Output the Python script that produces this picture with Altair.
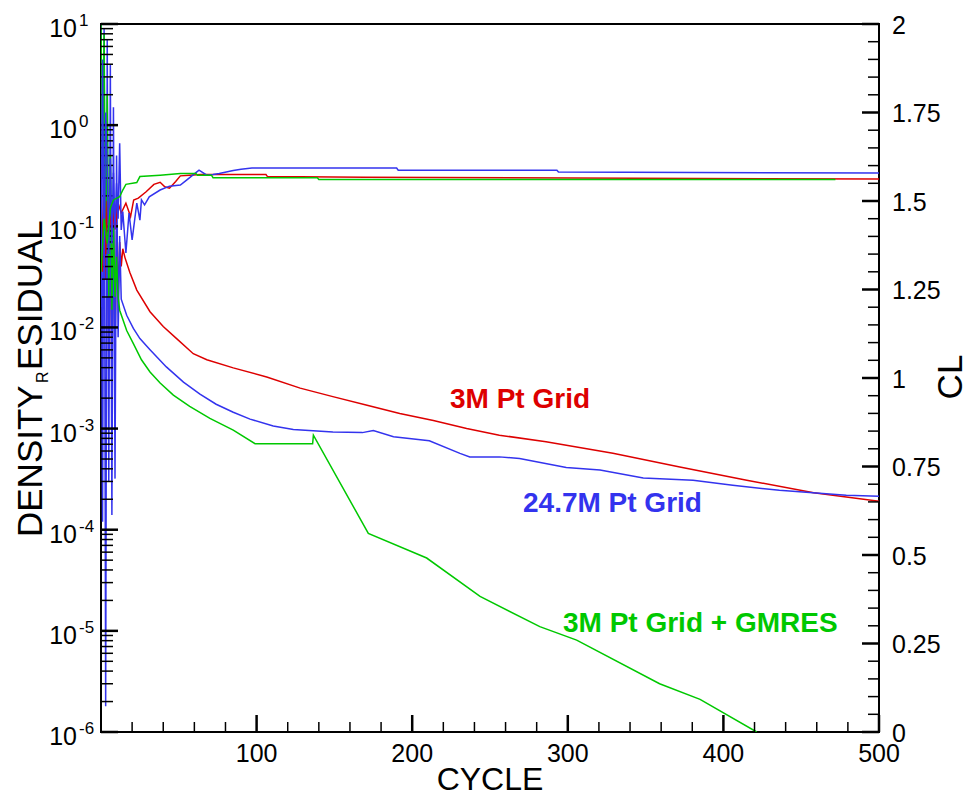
import altair as alt
import pandas as pd

# ---------------- data ----------------
red_res_cycle = [0, 1, 2, 3, 4, 5, 6, 7, 8, 9, 10, 11, 12, 13, 14, 15.4, 18.6, 23, 31.5, 40, 48.6,
                 59.3, 68, 85, 106.5, 128, 149, 171, 192, 213.6, 235, 256, 286, 329, 372, 415, 458, 500]
red_res_val = [2.0, 0.4, 0.9, 0.03, 0.25, 0.004, 0.15, 0.0026, 0.12, 0.006, 0.09, 0.02, 0.07, 0.04, 0.06,
               0.049, 0.0347, 0.0234, 0.0143, 0.0102, 0.00776, 0.0055, 0.00479, 0.00398, 0.00324, 0.00251,
               0.00207, 0.0017, 0.00141, 0.0012, 0.001, 0.000861, 0.000741, 0.000569, 0.000417, 0.000309,
               0.000232, 0.000191]

blue_res_cycle = [0, 1, 2, 3, 4, 5, 6, 7, 8, 9, 10, 11, 12, 13, 16.5, 20.8, 25, 31.5, 42, 53, 63.6, 74, 85,
                  95.8, 110.7, 123.6, 149, 168, 175, 188, 211, 230.7, 237, 256, 269, 299, 320.7, 348.5,
                  380.5, 406, 436, 479, 500]
blue_res_val = [9.8, 1.2e-4, 9.0, 1.8e-6, 7.0, 3.0e-4, 4.0, 1.4e-4, 1.5, 3.2e-4, 0.5, 8e-3, 0.08, 0.019,
                0.0132, 0.00977, 0.00776, 0.00603, 0.00407, 0.00288, 0.00219, 0.00174, 0.00145, 0.00124,
                0.00106, 0.000977, 0.000923, 0.000912, 0.000955, 0.000832, 0.000759, 0.000569, 0.000525,
                0.000525, 0.000507, 0.000412, 0.000389, 0.000324, 0.000309, 0.000275, 0.000245, 0.000219,
                0.000214]

green_res_cycle = [0, 1, 2, 3, 4, 5, 6, 7, 8, 9, 10, 11, 12, 16.5, 20.8, 26, 31.5, 38, 46.5, 57, 70, 85,
                   99, 136, 136.5, 171.8, 209.3, 243.6, 282, 305.7, 359, 385, 421.4]
green_res_val = [9.8, 0.3, 8.0, 0.06, 2.0, 0.02, 0.5, 0.015, 0.1, 0.02, 0.05, 0.02, 0.0148, 0.00933,
                 0.00692, 0.00479, 0.00363, 0.00282, 0.00214, 0.00166, 0.00126, 0.000966, 0.000708,
                 0.000708, 0.000861, 9.2e-5, 5.25e-5, 2.19e-5, 1.10e-5, 8.1e-6, 3.0e-6, 2.1e-6, 1.0e-6]

blue_cl_cycle = [0, 1, 2, 3, 4, 5, 6, 7, 8, 9, 10, 11, 12, 13, 14, 16, 18, 20, 23, 25, 26, 28, 31, 38, 44,
                 51, 55, 61, 63, 68, 72, 76, 85, 90, 97, 190, 191, 293, 294, 500]
blue_cl_val = [1.2, 1.9, 1.3, 1.75, 1.59, 1.35, 1.62, 1.38, 1.58, 1.42, 1.55, 1.45, 1.663, 1.418, 1.47,
               1.353, 1.466, 1.39, 1.494, 1.446, 1.503, 1.489, 1.512, 1.531, 1.542, 1.545, 1.559, 1.58,
               1.587, 1.573, 1.575, 1.578, 1.586, 1.59, 1.593, 1.593, 1.587, 1.587, 1.582, 1.579]

red_cl_cycle = [0, 1, 2, 3, 4, 5, 7, 9, 11, 13, 16, 19, 21, 24, 29, 34, 38, 41, 44, 48, 51, 57, 64, 106,
                107, 170, 500]
red_cl_val = [1.6, 1.3, 1.55, 1.35, 1.5, 1.4, 1.484, 1.42, 1.494, 1.466, 1.494, 1.456, 1.503, 1.508,
              1.526, 1.547, 1.553, 1.540, 1.536, 1.555, 1.571, 1.573, 1.575, 1.575, 1.569, 1.567, 1.562]

green_cl_cycle = [0, 2, 4, 6, 8, 12, 14, 16, 23, 25, 38, 51, 61, 62, 71, 72, 139, 140, 472]
green_cl_val = [1.3, 1.45, 1.38, 1.48, 1.503, 1.512, 1.531, 1.547, 1.552, 1.569, 1.573, 1.578, 1.578,
                1.573, 1.573, 1.566, 1.566, 1.561, 1.561]

series_names = ["3M Pt Grid", "24.7M Pt Grid", "3M Pt Grid + GMRES"]
series_colors = ["#DD0000", "#3333EE", "#00C800"]

# in-plot labels (anchored in data coordinates: cycle, residual)
label_cycle = [224.3, 271.2, 296.9]
label_res = [1.6e-3, 1.5e-4, 9.75e-6]

# axis ticks and tick labels
x_major = [100, 200, 300, 400, 500]
x_tick_labels = ["100", "200", "300", "400", "500"]
x_minor = [20, 40, 60, 80, 120, 140, 160, 180, 220, 240, 260, 280, 320, 340, 360, 380,
           420, 440, 460, 480]
log_major = [1e-6, 1e-5, 1e-4, 1e-3, 1e-2, 1e-1, 1e0, 1e1]
log_base_labels = ["10"] * 8
log_exponents = ["-6", "-5", "-4", "-3", "-2", "-1", "0", "1"]
log_minor = [m * d for d in [1e-6, 1e-5, 1e-4, 1e-3, 1e-2, 1e-1, 1e0] for m in range(2, 10)]
cl_major = [0, 0.25, 0.5, 0.75, 1, 1.25, 1.5, 1.75, 2]
cl_tick_labels = ["0", "0.25", "0.5", "0.75", "1", "1.25", "1.5", "1.75", "2"]
cl_minor = [0.05, 0.1, 0.15, 0.2, 0.3, 0.35, 0.4, 0.45, 0.55, 0.6, 0.65, 0.7, 0.8, 0.85, 0.9, 0.95,
            1.05, 1.1, 1.15, 1.2, 1.3, 1.35, 1.4, 1.45, 1.55, 1.6, 1.65, 1.7, 1.8, 1.85, 1.9, 1.95]

# ---------------- tables ----------------
res_df = pd.DataFrame({
    "cycle": red_res_cycle + blue_res_cycle + green_res_cycle,
    "val": red_res_val + blue_res_val + green_res_val,
    "series": [series_names[0]] * len(red_res_cycle) + [series_names[1]] * len(blue_res_cycle)
    + [series_names[2]] * len(green_res_cycle),
})
cl_df = pd.DataFrame({
    "cycle": red_cl_cycle + blue_cl_cycle + green_cl_cycle,
    "cl": red_cl_val + blue_cl_val + green_cl_val,
    "series": [series_names[0]] * len(red_cl_cycle) + [series_names[1]] * len(blue_cl_cycle)
    + [series_names[2]] * len(green_cl_cycle),
})
lab_df = pd.DataFrame({"cycle": label_cycle, "val": label_res, "series": series_names})

W, H = 778, 708
NUM_FONT = "Liberation Sans, Arial"
NUM_SIZE = 25
TXT_FONT = "Liberation Sans, Arial"

xscale = alt.Scale(domain=[0, 500], nice=False, zero=False)
lscale = alt.Scale(type="log", domain=[1e-6, 10], nice=False)
cscale = alt.Scale(domain=[0, 2], nice=False, zero=False)
colscale = alt.Scale(domain=series_names, range=series_colors)

res_lines = alt.Chart(res_df).mark_line(strokeWidth=1.5, clip=True).encode(
    x=alt.X("cycle:Q", scale=xscale, axis=None),
    y=alt.Y("val:Q", scale=lscale, axis=None),
    color=alt.Color("series:N", scale=colscale, legend=None),
)

cl_lines = alt.Chart(cl_df).mark_line(strokeWidth=1.5, clip=True).encode(
    x=alt.X("cycle:Q", scale=xscale, axis=None),
    y=alt.Y("cl:Q", scale=cscale, axis=None),
    color=alt.Color("series:N", scale=colscale, legend=None),
)


def yticks(vals, scale, x0, x1, width):
    return alt.Chart(pd.DataFrame({"v": vals})).mark_rule(color="black", strokeWidth=width).encode(
        y=alt.Y("v:Q", scale=scale, axis=None), x=alt.value(x0), x2=alt.value(x1))


def xticks(vals, length, width):
    return alt.Chart(pd.DataFrame({"v": vals})).mark_rule(color="black", strokeWidth=width).encode(
        x=alt.X("v:Q", scale=xscale, axis=None), y=alt.value(H), y2=alt.value(H - length))


def ylabels(vals, texts, scale, x, align, dy, size):
    return alt.Chart(pd.DataFrame({"v": vals, "t": texts})).mark_text(
        align=align, baseline="middle", dy=dy, fontSize=size, font=NUM_FONT, color="black").encode(
        y=alt.Y("v:Q", scale=scale, axis=None), x=alt.value(x), text="t:N")


x_labels = alt.Chart(pd.DataFrame({"v": x_major, "t": x_tick_labels})).mark_text(
    align="center", baseline="top", fontSize=NUM_SIZE, font=NUM_FONT, color="black").encode(
    x=alt.X("v:Q", scale=xscale, axis=None), y=alt.value(H + 10), text="t:N")

labels = alt.Chart(lab_df).mark_text(
    align="left", baseline="alphabetic", fontSize=28, fontWeight="bold", font=TXT_FONT).encode(
    x=alt.X("cycle:Q", scale=xscale, axis=None),
    y=alt.Y("val:Q", scale=lscale, axis=None),
    text="series:N",
    color=alt.Color("series:N", scale=colscale, legend=None),
)


def free_text(t, x, y, **kw):
    return alt.Chart(pd.DataFrame({"t": [t]})).mark_text(font=TXT_FONT, color="black", **kw).encode(
        text="t:N", x=alt.value(x), y=alt.value(y))


title_dens = free_text("DENSITY", -59, 513, angle=270, align="left", baseline="alphabetic", fontSize=35)
title_r = free_text("R", -53, 359, angle=270, align="left", baseline="alphabetic", fontSize=16)
title_esid = free_text("ESIDUAL", -59, 346, angle=270, align="left", baseline="alphabetic", fontSize=35)
title_cl = free_text("CL", W + 83, H / 2 - 1, angle=270, align="center", baseline="alphabetic",
                     fontSize=35)
title_cycle = free_text("CYCLE", W / 2, H + 58, align="center", baseline="alphabetic", fontSize=32)

left_group = alt.layer(
    res_lines,
    labels,
    yticks(log_minor, lscale, 0, 12, 1.5),
    yticks(log_major, lscale, 0, 17, 2.5),
    xticks(x_minor, 10, 1.5),
    xticks(x_major, 17, 2.5),
    ylabels(log_major, log_base_labels, lscale, -24, "right", 5, NUM_SIZE),
    ylabels(log_major, log_exponents, lscale, -22, "left", -3, 17),
    x_labels,
    title_dens, title_r, title_esid, title_cycle,
)

right_group = alt.layer(
    cl_lines,
    yticks(cl_minor, cscale, W, W - 11, 1.5),
    yticks(cl_major, cscale, W, W - 17, 2.5),
    ylabels(cl_major, cl_tick_labels, cscale, W + 13, "left", 1.5, NUM_SIZE),
    title_cl,
)

chart = alt.layer(left_group, right_group).resolve_scale(y="independent").properties(
    width=W, height=H,
    autosize=alt.AutoSizeParams(type="none"),
    padding={"left": 101, "top": 24, "right": 90, "bottom": 66},
    background="white",
).configure_view(stroke="black", strokeWidth=2)

chart.save("out.html", embed_options={"renderer": "svg", "actions": False})
